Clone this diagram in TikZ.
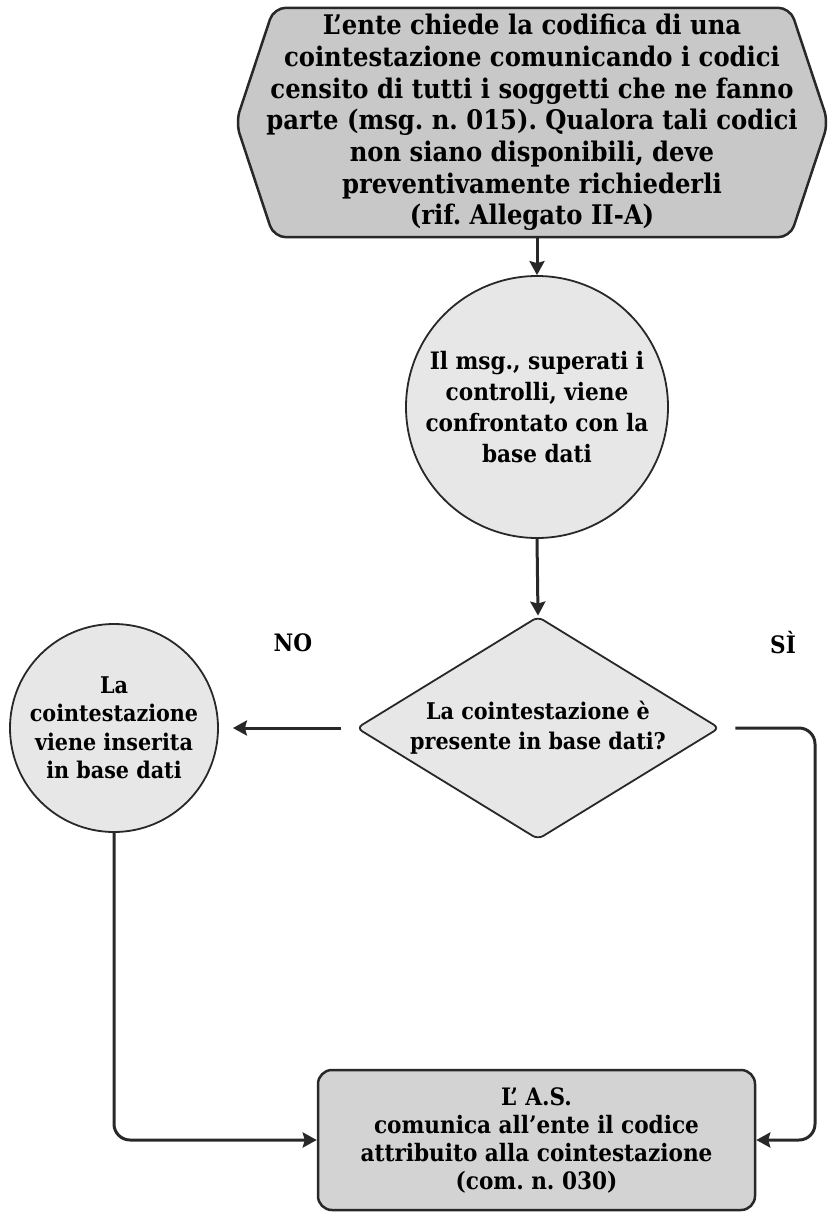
\documentclass[tikz,border=0pt]{standalone}
\usepackage{fontspec}
\setmainfont{DejaVu Serif Condensed}
\usetikzlibrary{shapes.geometric,arrows.meta,calc,backgrounds}
\definecolor{flowdark}{RGB}{40,40,40}
\definecolor{flowmid}{RGB}{200,200,200}
\definecolor{flowlight}{RGB}{231,231,231}
\definecolor{flowbox}{RGB}{211,211,211}
\frenchspacing

\begin{document}
\begin{tikzpicture}[x=1pt,y=-1pt,
        font=\fontsize{24}{31}\selectfont\bfseries,
        txt/.style={align=center,inner sep=0pt},
        roundnode/.style={circle,draw=flowdark,line width=1.8pt,fill=flowlight,align=center,inner sep=0pt},
        arr/.style={draw=flowdark,line width=3pt,-{Stealth[length=14pt,width=15pt,inset=2pt]}}]
        \useasboundingbox (0,0) rectangle (830,1212);
        % request
        \node[txt,minimum width=592,minimum height=229,font=\fontsize{27}{31.7}\selectfont\bfseries] (req) at (532,122.5)
            {L’ente chiede la codifica di una\\cointestazione comunicando i codici\\censito di tutti i soggetti che ne fanno\\parte (msg. n. 015). Qualora tali codici\\non siano disponibili, deve\\preventivamente richiederli\\(rif. Allegato II-A)};
        \begin{scope}[on background layer]
            \draw[draw=flowdark,line width=2.5pt,fill=flowmid,rounded corners=12pt]
                (req.west) -- ($(req.north west)+(38,0)$) -- ($(req.north east)+(-38,0)$)
                -- (req.east) -- ($(req.south east)+(-38,0)$) -- ($(req.south west)+(38,0)$) -- cycle;
        \end{scope}
        % check
        \node[roundnode,minimum size=262] (msg) at (537,407)
            {Il msg., superati i\\controlli, viene\\confrontato con la\\base dati};
        \draw[arr] (msg.north |- req.south) -- (msg.north);
        % decision
        \node[diamond,draw=flowdark,line width=1.8pt,fill=flowlight,rounded corners=6pt,aspect=1.63,
            inner sep=0pt,minimum width=363,minimum height=223,align=center,
            font=\fontsize{23}{30}\selectfont\bfseries] (dec) at (538,728)
            {La cointestazione è\\presente in base dati?};
        \draw[arr] (msg.south) -- (dec.north);
        \node (no) at (293,643) {NO};
        \node (si) at (783,643) {SÌ};
        % no: insert
        \node[roundnode,minimum size=208,font=\fontsize{23}{28.5}\selectfont\bfseries] (ins) at (114,728)
            {La\\cointestazione\\viene inserita\\in base dati};
        \draw[arr,shorten <=15pt,shorten >=14pt] (dec.west) -- (ins.east);
        % answer
        \node[draw=flowdark,line width=2.5pt,fill=flowbox,rounded corners=14pt,minimum width=437,minimum height=140,
            align=center,font=\fontsize{24}{28}\selectfont\bfseries] (com) at (536.5,1140)
            {L’ A.S.\\comunica all’ente il codice\\attribuito alla cointestazione\\(com. n. 030)};
        \coordinate (sibend) at (815,0);
        \draw[arr,rounded corners=16pt,shorten <=15pt] (dec.east) -- (dec.east -| sibend) -- (com.east -| sibend) -- (com.east);
        \draw[arr,rounded corners=16pt] (ins.south) -- (ins.south |- com.west) -- (com.west);
    \end{tikzpicture}
\end{document}
